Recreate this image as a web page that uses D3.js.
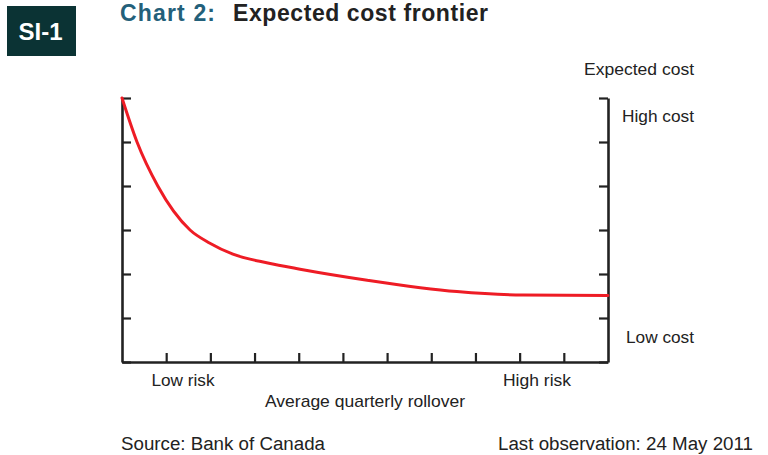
<!DOCTYPE html>
<html>
<head>
<meta charset="utf-8">
<script src="https://cdn.jsdelivr.net/npm/d3@7"></script>
<style>
  body { margin: 0; background: #fff; }
  svg { display: block; font-family: "Liberation Sans", Arial, sans-serif; }
</style>
</head>
<body>
<svg id="chart" width="768" height="455"></svg>
<script>
// frontier (x: rollover units, y: cost units)
const rollover = [0, 0.34, 0.81, 1.54, 1.99, 2.51, 3.3, 4.03, 5.55, 7.58, 9.08, 11];
const cost = [6, 5.0, 4.0, 3.0, 2.7, 2.45, 2.25, 2.11, 1.86, 1.6, 1.52, 1.51];
const xTicks = [1, 2, 3, 4, 5, 6, 7, 8, 9, 10];
const yTicks = [0, 1, 2, 3, 4, 5, 6];

const svg = d3.select('#chart');
const plotL = 122, plotR = 608, plotT = 98, plotB = 362;

const x = d3.scaleLinear().domain([0, 11]).range([plotL, plotR]);
const y = d3.scaleLinear().domain([0, 6]).range([plotB, plotT]);

// badge
svg.append('rect').attr('x', 7).attr('y', 6).attr('width', 69).attr('height', 50).attr('fill', '#0b3334');
svg.append('text').attr('x', 40.5).attr('y', 39.5).attr('text-anchor', 'middle')
  .attr('fill', '#fff').attr('font-weight', 'bold').attr('font-size', 24.5)
  .attr('textLength', 44).attr('lengthAdjust', 'spacingAndGlyphs').text('SI-1');

// title
svg.append('text').attr('x', 120).attr('y', 21).attr('font-weight', 'bold').attr('font-size', 23)
  .attr('fill', '#23607a').attr('textLength', 95).text('Chart 2:');
svg.append('text').attr('x', 233).attr('y', 21).attr('font-weight', 'bold').attr('font-size', 23)
  .attr('fill', '#222').attr('textLength', 255).text('Expected cost frontier');

const axisStyle = g => {
  g.selectAll('text').remove();
  g.selectAll('path, line').attr('stroke', '#222');
  g.select('.domain').attr('stroke-width', 2.6);
  g.selectAll('.tick line').attr('stroke-width', 2.2);
};

svg.append('g').attr('transform', `translate(${plotL},0)`)
  .call(d3.axisLeft(y).tickValues(yTicks).tickSizeInner(-9).tickSizeOuter(0))
  .call(axisStyle);
svg.append('g').attr('transform', `translate(${plotR},0)`)
  .call(d3.axisRight(y).tickValues(yTicks).tickSizeInner(-9).tickSizeOuter(0))
  .call(axisStyle);
svg.append('g').attr('transform', `translate(0,${plotB})`)
  .call(d3.axisBottom(x).tickValues(xTicks).tickSizeInner(-9).tickSizeOuter(0))
  .call(axisStyle);

// frontier line
const pts = rollover.map((r, i) => [r, cost[i]]);
svg.append('path').datum(pts)
  .attr('fill', 'none').attr('stroke', '#ee1c25').attr('stroke-width', 3)
  .attr('stroke-linecap', 'round')
  .attr('d', d3.line().x(d => x(d[0])).y(d => y(d[1])).curve(d3.curveMonotoneX));

// labels
const label = (tx, ty, anchor, s, size, len) => svg.append('text').attr('x', tx).attr('y', ty)
  .attr('text-anchor', anchor).attr('font-size', size).attr('fill', '#222')
  .attr('textLength', len).attr('lengthAdjust', 'spacingAndGlyphs').text(s);

label(694, 74.5, 'end', 'Expected cost', 17, 110);
label(694, 122, 'end', 'High cost', 17, 72);
label(694, 342.5, 'end', 'Low cost', 17, 68);
label(183, 385.5, 'middle', 'Low risk', 17, 63);
label(537, 385.5, 'middle', 'High risk', 17, 68);
label(365, 406.5, 'middle', 'Average quarterly rollover', 17, 200);
label(121, 450, 'start', 'Source: Bank of Canada', 18, 204);
label(753, 450, 'end', 'Last observation: 24 May 2011', 18, 255);
</script>
</body>
</html>
